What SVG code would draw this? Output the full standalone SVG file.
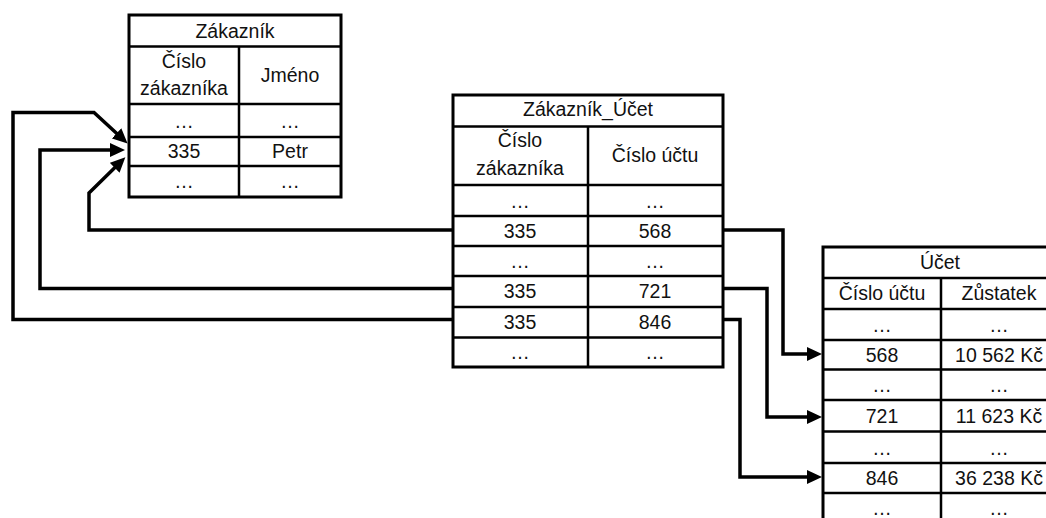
<svg xmlns="http://www.w3.org/2000/svg" width="1046" height="518" viewBox="0 0 1046 518">
<style>
text{font-family:"Liberation Sans",Arial,sans-serif;font-size:19.5px;fill:#111;text-anchor:middle}
.box{fill:#fff;stroke:#000;stroke-width:3}
.ln{stroke:#000;stroke-width:2.5;fill:none}
.con{stroke:#000;stroke-width:3.5;fill:none;marker-end:url(#ah)}
</style>
<defs>
<marker id="ah" markerUnits="userSpaceOnUse" markerWidth="16" markerHeight="14" refX="4" refY="7" orient="auto" viewBox="0 0 16 14">
<path d="M0,0 L15,7 L0,14 z" fill="#000"/>
</marker>
</defs>
<rect width="1046" height="518" fill="#fff"/>

<g id="zakaznik">
<rect class="box" x="129" y="15" width="212" height="182"/>
<path class="ln" d="M129,46.5 H341 M129,104 H341 M129,137 H341 M129,166 H341 M239,46.5 V197"/>
<text x="235" y="38">Zákazník</text>
<text x="184" y="68">Číslo</text>
<text x="184" y="95">zákazníka</text>
<text x="290" y="82">Jméno</text>
<text x="184" y="128">…</text>
<text x="290" y="128">…</text>
<text x="184" y="158">335</text>
<text x="290" y="158">Petr</text>
<text x="184" y="188">…</text>
<text x="290" y="188">…</text>
</g>

<g id="zakaznik_ucet">
<rect class="box" x="453" y="95" width="270" height="272"/>
<path class="ln" d="M453,126.5 H723 M453,185 H723 M453,216 H723 M453,246 H723 M453,276 H723 M453,307 H723 M453,337.5 H723 M588,126.5 V367"/>
<text x="588" y="116">Zákazník_Účet</text>
<text x="520" y="147">Číslo</text>
<text x="520" y="175">zákazníka</text>
<text x="655" y="162">Číslo účtu</text>
<text x="520" y="208">…</text><text x="655" y="208">…</text>
<text x="520" y="238">335</text><text x="655" y="238">568</text>
<text x="520" y="268">…</text><text x="655" y="268">…</text>
<text x="520" y="298">335</text><text x="655" y="298">721</text>
<text x="520" y="329">335</text><text x="655" y="329">846</text>
<text x="520" y="359">…</text><text x="655" y="359">…</text>
</g>

<g id="ucet">
<rect class="box" x="823" y="247" width="234" height="290"/>
<path class="ln" d="M823,278 H1057 M823,309 H1057 M823,340 H1057 M823,369.5 H1057 M823,400 H1057 M823,431.5 H1057 M823,463 H1057 M823,493 H1057 M941,278 V518"/>
<text x="940" y="269">Účet</text>
<text x="882" y="300">Číslo účtu</text>
<text x="999" y="300">Zůstatek</text>
<text x="882" y="332">…</text><text x="999" y="332">…</text>
<text x="882" y="362">568</text><text x="999" y="362">10 562 Kč</text>
<text x="882" y="392">…</text><text x="999" y="392">…</text>
<text x="882" y="423">721</text><text x="999" y="423">11 623 Kč</text>
<text x="882" y="455">…</text><text x="999" y="455">…</text>
<text x="882" y="485">846</text><text x="999" y="485">36 238 Kč</text>
<text x="882" y="515">…</text><text x="999" y="515">…</text>
</g>

<g id="connectors">
<path class="con" d="M453,230 H89 V193 L117.5,165"/>
<path class="con" d="M453,288.5 H40 V150 H114"/>
<path class="con" d="M453,319.5 H13 V112.5 H94 L119.5,136"/>
<path class="con" d="M723,230 H783 V354 H811"/>
<path class="con" d="M723,288.5 H767 V417 H811"/>
<path class="con" d="M723,319.5 H740 V477 H811"/>
</g>
</svg>
